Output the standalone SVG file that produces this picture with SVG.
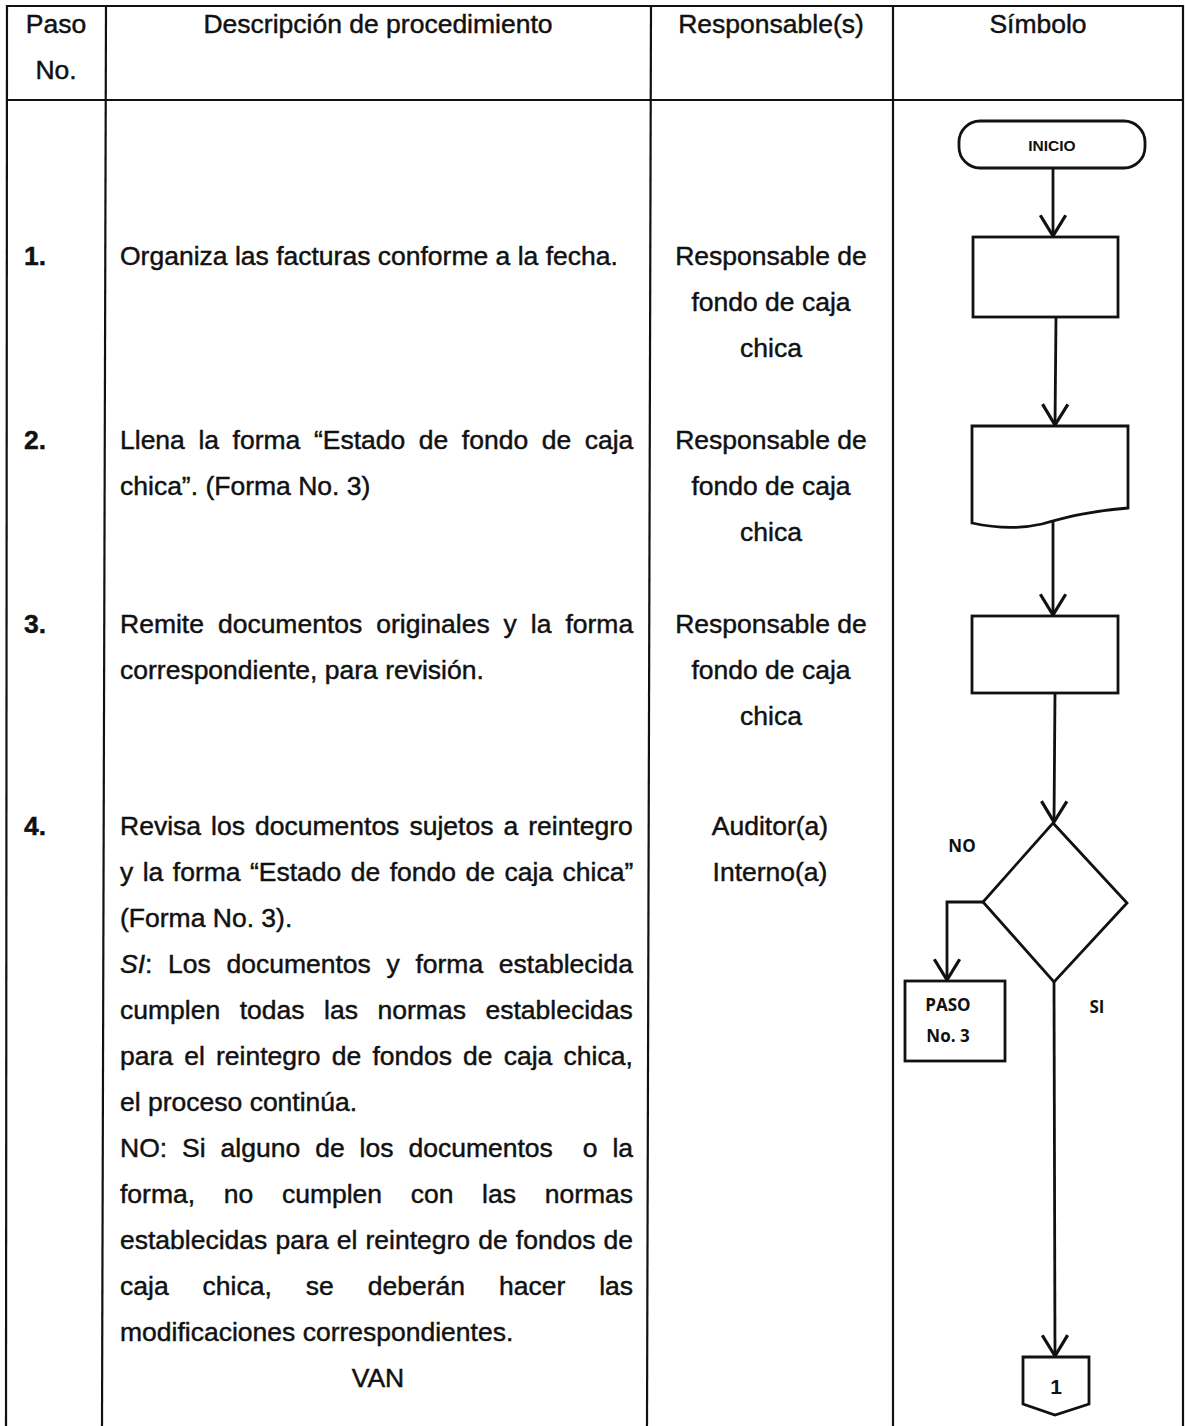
<svg xmlns="http://www.w3.org/2000/svg" width="1185" height="1426" viewBox="0 0 1185 1426">
  <style>
    .grid { stroke: #111; stroke-width: 2.2; fill: none; }
    .t { font-family: "Liberation Sans", Arial, sans-serif; font-size: 26.5px; fill: #111; stroke: #111; stroke-width: 0.45; }
    .c { text-anchor: middle; }
    .b { font-weight: bold; }
    .shape { fill: #fff; stroke: #111; stroke-width: 2.8; }
    .conn { fill: none; stroke: #111; stroke-width: 2.8; }
    .lbl { font-family: "Open Sans", "Liberation Sans", sans-serif; font-weight: bold; font-size: 17px; fill: #111; text-anchor: middle; }
    .lbl2 { font-family: "Liberation Sans", Arial, sans-serif; font-weight: bold; fill: #111; text-anchor: middle; }
  </style>
  <defs>
    <marker id="arrow" markerUnits="userSpaceOnUse" markerWidth="30" markerHeight="30" refX="0" refY="0" viewBox="-22 -13 26 26" orient="auto" overflow="visible">
      <path d="M-18,-11 L0,0 L-18,11" fill="none" stroke="#111" stroke-width="2.8" stroke-linejoin="miter"/>
    </marker>
  </defs>

  <rect width="1185" height="1426" fill="#fff"/>

  <!-- table grid -->
  <g id="table">
    <line class="grid" x1="6" y1="6" x2="1184" y2="6"/>
    <line class="grid" x1="6" y1="100" x2="1184" y2="100"/>
    <line class="grid" x1="7" y1="5" x2="6" y2="1426"/>
    <line class="grid" x1="106" y1="5" x2="102" y2="1426"/>
    <line class="grid" x1="651" y1="5" x2="647" y2="1426"/>
    <line class="grid" x1="893" y1="5" x2="893" y2="1426"/>
    <line class="grid" x1="1183" y1="5" x2="1183" y2="1426"/>
  </g>

  <!-- header -->
  <g id="header">
    <text class="t c" x="56" y="33">Paso</text>
    <text class="t c" x="56" y="79">No.</text>
    <text class="t c" x="378" y="33">Descripción de procedimiento</text>
    <text class="t c" x="771" y="33">Responsable(s)</text>
    <text class="t c" x="1038" y="33">Símbolo</text>
  </g>

  <!-- step numbers -->
  <g id="steps">
    <text class="t b" x="24" y="265">1.</text>
    <text class="t b" x="24" y="449">2.</text>
    <text class="t b" x="24" y="633">3.</text>
    <text class="t b" x="24" y="835">4.</text>
  </g>

  <!-- procedure descriptions -->
  <g id="descriptions">
    <text class="t" x="120" y="265">Organiza las facturas conforme a la fecha.</text>

    <text class="t" x="120" y="449" word-spacing="6.2">Llena la forma “Estado de fondo de caja</text>
    <text class="t" x="120" y="495">chica”. (Forma No. 3)</text>

    <text class="t" x="120" y="633" word-spacing="6.6">Remite documentos originales y la forma</text>
    <text class="t" x="120" y="679">correspondiente, para revisión.</text>

    <text class="t" x="120" y="835" word-spacing="2.7">Revisa los documentos sujetos a reintegro</text>
    <text class="t" x="120" y="881" word-spacing="2.1">y la forma “Estado de fondo de caja chica”</text>
    <text class="t" x="120" y="927">(Forma No. 3).</text>
    <text class="t" x="120" y="973" word-spacing="8.3"><tspan font-style="italic">SI</tspan>: Los documentos y forma establecida</text>
    <text class="t" x="120" y="1019" word-spacing="12.2">cumplen todas las normas establecidas</text>
    <text class="t" x="120" y="1065" word-spacing="3.8">para el reintegro de fondos de caja chica,</text>
    <text class="t" x="120" y="1111">el proceso continúa.</text>
    <text class="t" x="120" y="1157" word-spacing="7.6" style="white-space:pre">NO: Si alguno de los documentos  o la</text>
    <text class="t" x="120" y="1203" word-spacing="21.3">forma, no cumplen con las normas</text>
    <text class="t" x="120" y="1249" word-spacing="0.8">establecidas para el reintegro de fondos de</text>
    <text class="t" x="120" y="1295" word-spacing="26.6">caja chica, se deberán hacer las</text>
    <text class="t" x="120" y="1341">modificaciones correspondientes.</text>
    <text class="t c" x="378" y="1387">VAN</text>
  </g>

  <!-- responsible parties -->
  <g id="responsables">
    <text class="t c" x="771" y="265">Responsable de</text>
    <text class="t c" x="771" y="311">fondo de caja</text>
    <text class="t c" x="771" y="357">chica</text>

    <text class="t c" x="771" y="449">Responsable de</text>
    <text class="t c" x="771" y="495">fondo de caja</text>
    <text class="t c" x="771" y="541">chica</text>

    <text class="t c" x="771" y="633">Responsable de</text>
    <text class="t c" x="771" y="679">fondo de caja</text>
    <text class="t c" x="771" y="725">chica</text>

    <text class="t c" x="770" y="835">Auditor(a)</text>
    <text class="t c" x="770" y="881">Interno(a)</text>
  </g>

  <!-- connectors -->
  <g id="connectors">
    <path class="conn" d="M1053,168 L1053,236" marker-end="url(#arrow)"/>
    <path class="conn" d="M1056,317 L1055,425" marker-end="url(#arrow)"/>
    <path class="conn" d="M1053,521 L1053,615" marker-end="url(#arrow)"/>
    <path class="conn" d="M1055,693 L1054,822" marker-end="url(#arrow)"/>
    <path class="conn" d="M983,902 L947,902 L947,980" marker-end="url(#arrow)"/>
    <path class="conn" d="M1054,982 L1055,1356" marker-end="url(#arrow)"/>
  </g>

  <!-- flowchart symbols -->
  <g id="inicio">
    <rect class="shape" x="959" y="121" width="186" height="47" rx="21" ry="21"/>
    <text class="lbl2" x="1052" y="151" font-size="15.5">INICIO</text>
  </g>
  <g id="paso1">
    <rect class="shape" x="973" y="237" width="145" height="80"/>
  </g>
  <g id="paso2">
    <path class="shape" d="M972,426 L1128,426 L1128,508 C1092,511 1070,516 1042,524 C1020,529 995,528 972,523 Z"/>
  </g>
  <g id="paso3">
    <rect class="shape" x="972" y="616" width="146" height="77"/>
  </g>
  <g id="decision">
    <path class="shape" d="M1053,823 L1127,903 L1054,982 L983,902 Z"/>
    <text class="lbl" x="962" y="852">NO</text>
    <text class="lbl" x="1097" y="1013">SI</text>
  </g>
  <g id="retorno">
    <rect class="shape" x="905" y="981" width="100" height="80"/>
    <text class="lbl" x="948" y="1011">PASO</text>
    <text class="lbl" x="948" y="1042">No. 3</text>
  </g>
  <g id="conector1">
    <path class="shape" d="M1023,1357 L1089,1357 L1089,1404 L1055,1415 L1023,1404 Z"/>
    <text class="lbl2" x="1056" y="1394" font-size="21">1</text>
  </g>
</svg>
